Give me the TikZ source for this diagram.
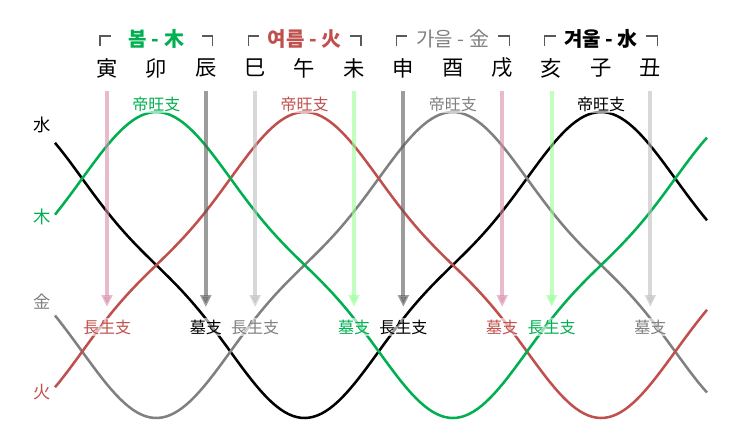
\documentclass[tikz,border=0pt]{standalone}
\usepackage{fontspec}
\setmainfont{Noto Sans CJK KR}
\usetikzlibrary{arrows.meta}

\definecolor{wood}{RGB}{0,176,80}
\definecolor{fire}{RGB}{192,80,77}
\definecolor{metal}{RGB}{128,128,128}
\definecolor{water}{RGB}{0,0,0}
\definecolor{woodlt}{RGB}{150,255,150}
\definecolor{firelt}{RGB}{215,140,170}
\definecolor{metallt}{RGB}{190,190,190}
\definecolor{waterlt}{RGB}{90,90,90}

\begin{document}
\begin{tikzpicture}[x=0.75pt, y=-0.75pt,
	declare function={wave(\t,\p)=265-137.7*(cos((\t-\p)/593*360)+cos(3*(\t-\p)/593*360)/9);},
	curve/.style={line width=1.9pt},
	marker/.style={line width=3pt, opacity=0.6, -{Triangle[width=8pt,length=9pt]}},
	tag/.style={font=\fontsize{12}{12}\selectfont, fill=white, fill opacity=0.6, text opacity=1, inner sep=1pt},
	branch/.style={font=\fontsize{16}{16}\selectfont},
	season/.style={font=\fontsize{15}{15}\selectfont},
	element/.style={font=\fontsize{13}{13}\selectfont}]
	\useasboundingbox (0,0) rectangle (743,440);
	\def\w{49.4}
	\def\xo{107}

	% twelve branches and season headers
	\foreach \b [count=\i from 0] in {寅,卯,辰,巳,午,未,申,酉,戌,亥,子,丑}
		\node[branch] (br\i) at (\xo+\i*\w, 68) {\b};
	\foreach \s/\name/\col in {0/{\bfseries 봄 - 木}/wood, 1/{\bfseries 여름 - 火}/fire,
			2/{가을 - 金}/metal, 3/{\bfseries 겨울 - 水}/water} {
		\node[season, text=\col] (hd\s) at (\xo+3*\s*\w+\w, 39) {\name};
		\draw[line width=1pt, black!65] (\xo+3*\s*\w-7, 46) -- ++(0,-10) -- ++(11,0);
		\draw[line width=1pt, black!65] (\xo+3*\s*\w+2*\w+7, 46) -- ++(0,-10) -- ++(-11,0);
	}

	% element waves
	\draw[curve, water] plot[domain=55:707, samples=160] (\x, {wave(\x,\xo+10*\w)});
	\draw[curve, metal] plot[domain=55:707, samples=160] (\x, {wave(\x,\xo+7*\w)});
	\draw[curve, fire] plot[domain=55:707, samples=160] (\x, {wave(\x,\xo+4*\w)});
	\draw[curve, wood] plot[domain=55:707, samples=160] (\x, {wave(\x,\xo+\w)});

	\node[element, text=water] (lw) at (42, 125) {水};
	\node[element, text=wood] (lt) at (42, 217) {木};
	\node[element, text=metal] (lm) at (42, 302) {金};
	\node[element, text=fire] (lf) at (42, 392) {火};

	% peak of each wave
	\foreach \i/\col in {1/wood, 4/fire, 7/metal, 10/water}
		\node[tag, text=\col] (pk\i) at (\xo+\i*\w, 104) {帝旺支};

	% birth and tomb arrows
	\foreach \i/\col/\txt in {0/fire/長生支, 2/water/墓支, 3/metal/長生支, 5/wood/墓支,
			6/water/長生支, 8/fire/墓支, 9/wood/長生支, 11/metal/墓支} {
		\coordinate (a\i) at (\xo+\i*\w, 91);
		\coordinate (b\i) at (\xo+\i*\w, 307);
		\draw[marker, \col lt] (a\i) -- (b\i);
		\node[tag, text=\col] (lb\i) at (\xo+\i*\w, 327) {\txt};
	}
\end{tikzpicture}
\end{document}
